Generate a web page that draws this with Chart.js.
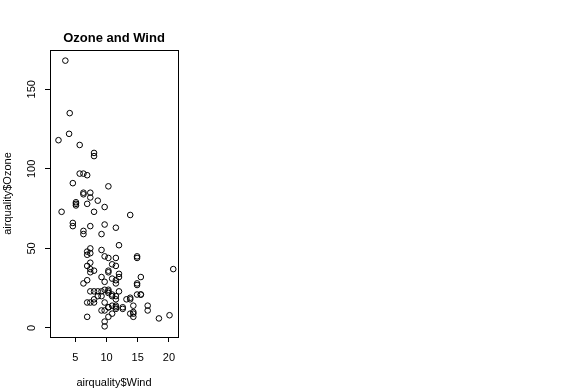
<!DOCTYPE html>
<html>
<head>
<meta charset="utf-8">
<script src="https://cdn.jsdelivr.net/npm/chart.js@4.4.1/dist/chart.umd.min.js"></script>
<style>
  html, body { margin: 0; padding: 0; background: #fff; }
</style>
</head>
<body>
<canvas id="myChart" width="574" height="388"></canvas>
<script>
// airquality data, May..September (null = NA)
var ozone = [41, 36, 12, 18, null, 28, 23, 19, 8, null, 7, 16, 11, 14, 18, 14, 34, 6, 30, 11, 1, 11, 4, 32, null, null, null, 23, 45, 115, 37,
  null, null, null, null, null, null, 29, null, 71, 39, null, null, 23, null, null, 21, 37, 20, 12, 13, null, null, null, null, null, null, null, null, null, null,
  135, 49, 32, null, 64, 40, 77, 97, 97, 85, null, 10, 27, null, 7, 48, 35, 61, 79, 63, 16, null, null, 80, 108, 20, 52, 82, 50, 64, 59,
  39, 9, 16, 78, 35, 66, 122, 89, 110, null, null, 44, 28, 65, null, 22, 59, 23, 31, 44, 21, 9, null, 45, 168, 73, null, 76, 118, 84, 85,
  96, 78, 73, 91, 47, 32, 20, 23, 21, 24, 44, 21, 28, 9, 13, 46, 18, 13, 24, 16, 13, 23, 36, 7, 14, 30, null, 14, 18, 20];
var wind = [7.4, 8.0, 12.6, 11.5, 14.3, 14.9, 8.6, 13.8, 20.1, 8.6, 6.9, 9.7, 9.2, 10.9, 13.2, 11.5, 12.0, 18.4, 11.5, 9.7, 9.7, 16.6, 9.7, 12.0, 16.6, 14.9, 8.0, 12.0, 14.9, 5.7, 7.4,
  8.6, 9.7, 16.1, 9.2, 8.6, 14.3, 9.7, 6.9, 13.8, 11.5, 10.9, 9.2, 8.0, 13.8, 11.5, 14.9, 20.7, 9.2, 11.5, 10.3, 6.3, 1.7, 4.6, 6.3, 8.0, 8.0, 10.3, 11.5, 14.9, 8.0,
  4.1, 9.2, 9.2, 10.9, 4.6, 10.9, 5.1, 6.3, 5.7, 7.4, 8.6, 14.3, 14.9, 14.9, 14.3, 6.9, 10.3, 6.3, 5.1, 11.5, 6.9, 9.7, 11.5, 8.6, 8.0, 8.6, 12.0, 7.4, 7.4, 7.4, 9.2,
  6.9, 13.8, 7.4, 6.9, 7.4, 4.6, 4.0, 10.3, 8.0, 8.6, 11.5, 11.5, 11.5, 9.7, 11.5, 10.3, 6.3, 7.4, 10.9, 10.3, 15.5, 14.3, 12.6, 9.7, 3.4, 8.0, 5.7, 9.7, 2.3, 6.3, 6.3,
  6.9, 5.1, 2.8, 4.6, 7.4, 15.5, 10.9, 10.3, 10.9, 9.7, 14.9, 15.5, 6.3, 10.9, 11.5, 6.9, 13.8, 10.3, 10.3, 8.0, 12.6, 9.2, 10.3, 10.3, 16.6, 6.9, 13.2, 14.3, 8.0, 11.5];
var xTicks = [5, 10, 15, 20];
var yTicks = [0, 50, 100, 150];

var points = [];
for (var i = 0; i < wind.length; i++) {
  if (ozone[i] !== null) points.push({x: wind[i], y: ozone[i]});
}

// R style box around the plot region
var boxPlugin = {
  id: 'box',
  afterDraw: function (chart) {
    var a = chart.chartArea;
    var ctx = chart.ctx;
    ctx.save();
    ctx.strokeStyle = '#000';
    ctx.lineWidth = 1;
    ctx.strokeRect(Math.round(a.left) + 0.5, Math.round(a.top) + 0.5, Math.round(a.right - a.left), Math.round(a.bottom - a.top));
    ctx.restore();
  }
};

var ctx = document.getElementById('myChart').getContext('2d');
var myChart = new Chart(ctx, {
  type: 'scatter',
  data: {
    datasets: [{
      data: points,
      pointStyle: 'circle',
      pointRadius: 2.8,
      pointHoverRadius: 2.8,
      borderColor: '#000',
      backgroundColor: 'rgba(0,0,0,0)',
      borderWidth: 1
    }]
  },
  options: {
    responsive: false,
    animation: false,
    events: [],
    layout: { padding: { left: 0, right: 396, top: 0, bottom: 0 } },
    plugins: {
      legend: { display: false },
      tooltip: { enabled: false },
      title: {
        display: true,
        text: 'Ozone and Wind',
        fullSize: false,
        color: '#000',
        font: { family: 'Liberation Sans, Arial, sans-serif', size: 13, weight: 'bold', lineHeight: 1.2 },
        padding: { top: 31, bottom: 3.4 }
      }
    },
    scales: {
      x: {
        type: 'linear',
        min: 0.94,
        max: 21.46,
        afterFit: function (scale) { scale.height = 51; },
        afterBuildTicks: function (scale) { scale.ticks = xTicks.map(function (v) { return {value: v}; }); },
        border: { display: false },
        grid: { drawOnChartArea: false, drawTicks: true, tickLength: 5, color: '#000', tickColor: '#000' },
        ticks: {
          color: '#000',
          padding: 9,
          maxRotation: 0,
          autoSkip: false,
          font: { family: 'Liberation Sans, Arial, sans-serif', size: 11 }
        },
        title: {
          display: true,
          text: 'airquality$Wind',
          color: '#000',
          font: { family: 'Liberation Sans, Arial, sans-serif', size: 11, lineHeight: 1 },
          padding: { top: 0, bottom: 0 }
        }
      },
      y: {
        type: 'linear',
        min: -5.68,
        max: 174.68,
        afterFit: function (scale) { scale.width = 50; },
        afterBuildTicks: function (scale) { scale.ticks = yTicks.map(function (v) { return {value: v}; }); },
        border: { display: false },
        grid: { drawOnChartArea: false, drawTicks: true, tickLength: 5, color: '#000', tickColor: '#000' },
        ticks: {
          color: '#000',
          padding: 4,
          minRotation: 90,
          maxRotation: 90,
          crossAlign: 'center',
          autoSkip: false,
          font: { family: 'Liberation Sans, Arial, sans-serif', size: 11 }
        },
        title: {
          display: true,
          text: 'airquality$Ozone',
          color: '#000',
          font: { family: 'Liberation Sans, Arial, sans-serif', size: 11, lineHeight: 1 },
          padding: { top: 2, bottom: 0 }
        }
      }
    }
  },
  plugins: [boxPlugin]
});
</script>
</body>
</html>
